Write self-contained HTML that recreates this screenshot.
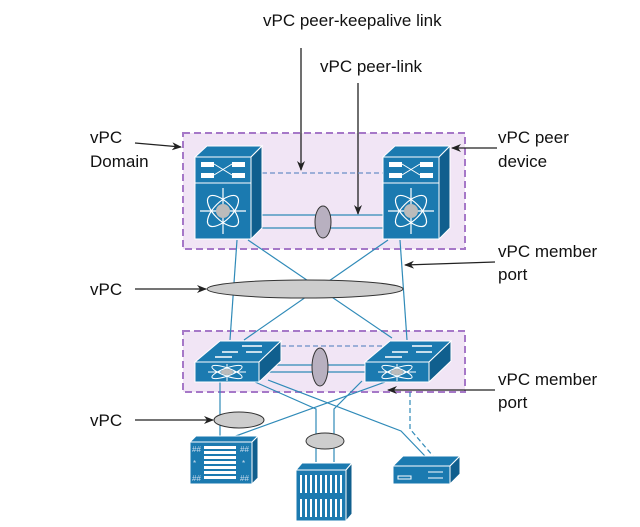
<!DOCTYPE html>
<html><head><meta charset="utf-8"><style>
html,body{margin:0;padding:0;background:#fff;}
svg{display:block;}
text{font-family:"Liberation Sans",sans-serif;font-size:17px;fill:#111;}
</style></head><body>
<svg width="640" height="527" viewBox="0 0 640 527" xmlns="http://www.w3.org/2000/svg">
<defs>
<marker id="ar" markerWidth="10" markerHeight="8" refX="9" refY="4" orient="auto" markerUnits="userSpaceOnUse">
<path d="M0,0 L10,4 L0,8 L3,4 z" fill="#222"/></marker>
</defs>
<!-- domain boxes -->
<rect x="183" y="133" width="282" height="116" fill="#f1e5f5" stroke="#a678c8" stroke-width="2" stroke-dasharray="7,4"/>
<rect x="183" y="331" width="282" height="61" fill="#f1e5f5" stroke="#a678c8" stroke-width="2" stroke-dasharray="7,4"/>

<!-- labels -->
<text x="263" y="26">vPC peer-keepalive link</text>
<text x="320" y="72">vPC peer-link</text>
<text x="90" y="143">vPC</text><text x="90" y="167">Domain</text>
<text x="498" y="143">vPC peer</text><text x="498" y="167">device</text>
<text x="498" y="257">vPC member</text><text x="498" y="280">port</text>
<text x="90" y="295">vPC</text>
<text x="498" y="385">vPC member</text><text x="498" y="408">port</text>
<text x="90" y="426">vPC</text>

<!-- arrows -->
<g stroke="#222" stroke-width="1.3" fill="none">
<line x1="301" y1="48" x2="301" y2="170" marker-end="url(#ar)"/>
<line x1="358" y1="83" x2="358" y2="214" marker-end="url(#ar)"/>
<line x1="135" y1="143" x2="181" y2="147" marker-end="url(#ar)"/>
<line x1="497" y1="148" x2="452" y2="148" marker-end="url(#ar)"/>
<line x1="495" y1="262" x2="405" y2="265" marker-end="url(#ar)"/>
<line x1="135" y1="289" x2="206" y2="289" marker-end="url(#ar)"/>
<line x1="495" y1="390" x2="388" y2="390" marker-end="url(#ar)"/>
<line x1="135" y1="420" x2="213" y2="420" marker-end="url(#ar)"/>
</g>

<!-- connection lines -->
<g stroke="#2f8ab8" stroke-width="1.2" fill="none">
<line x1="262" y1="215" x2="383" y2="215"/>
<line x1="262" y1="228" x2="383" y2="228"/>
<line x1="237" y1="240" x2="230" y2="340"/>
<line x1="248" y1="240" x2="392" y2="338"/>
<line x1="388" y1="240" x2="244" y2="340"/>
<line x1="400" y1="240" x2="407" y2="340"/>
<line x1="259" y1="365" x2="365" y2="365"/>
<line x1="259" y1="372" x2="365" y2="372"/>
<line x1="220" y1="382" x2="220" y2="437"/>
<line x1="385" y1="382" x2="233" y2="437"/>
<polyline points="255,382 316,409 316,462"/>
<polyline points="362,381 334,409 334,462"/>
<polyline points="268,380 401,431 425,456"/>
</g>
<g stroke="#6a8fc8" stroke-width="1.2" fill="none" stroke-dasharray="5,3">
<line x1="262" y1="173" x2="383" y2="173"/>
<line x1="281" y1="346" x2="385" y2="346"/>
<polyline stroke="#2f8ab8" points="410,392 410,429 433,456"/>
</g>

<!-- ellipses -->
<g fill="#b8b0c0" stroke="#333" stroke-width="1">
<ellipse cx="323" cy="222" rx="8" ry="16"/>
<ellipse cx="320" cy="367" rx="8" ry="19"/>
</g>
<g fill="#cdcdcd" stroke="#333" stroke-width="1">
<ellipse cx="305" cy="289" rx="98" ry="9"/>
<ellipse cx="239" cy="420" rx="25" ry="8"/>
<ellipse cx="325" cy="441" rx="19" ry="8"/>
</g>

<!-- top switches -->
<g id="sw">
<polygon points="195,157 207,146 262,146 251,157" fill="#1b7ab0" stroke="#fff" stroke-width="1"/>
<polygon points="251,157 262,146 262,228 251,239" fill="#105f8e" stroke="#fff" stroke-width="1"/>
<rect x="195" y="157" width="56" height="26" fill="#1b7ab0" stroke="#fff" stroke-width="1"/>
<rect x="195" y="183" width="56" height="56" fill="#1b7ab0" stroke="#fff" stroke-width="1"/>
<rect x="201" y="162" width="13" height="5" fill="#fff"/><rect x="232" y="162" width="13" height="5" fill="#fff"/>
<rect x="201" y="173" width="13" height="5" fill="#fff"/><rect x="232" y="173" width="13" height="5" fill="#fff"/>
<path d="M214,164 L232,175 M214,175 L232,164" stroke="#fff" stroke-width="1"/>
<g stroke="#fff" stroke-width="1.2" fill="none">
<ellipse cx="223" cy="211" rx="20" ry="9" transform="rotate(45 223 211)"/>
<ellipse cx="223" cy="211" rx="20" ry="9" transform="rotate(-45 223 211)"/>
<path d="M223,188 V234 M200,211 H246"/>
</g>
<circle cx="223" cy="211" r="7" fill="#bbb"/>
</g>
<use href="#sw" transform="translate(188,0)"/>

<!-- lower switches -->
<g id="ls">
<polygon points="195,362 220,341 281,341 259,362" fill="#1b7ab0" stroke="#fff" stroke-width="1"/>
<polygon points="259,362 281,341 281,361 259,382" fill="#105f8e" stroke="#fff" stroke-width="1"/>
<rect x="195" y="362" width="64" height="20" fill="#1b7ab0" stroke="#fff" stroke-width="1"/>
<path d="M215,357 H232 M242,346 H262 M222,352 H238 M246,352 H262" stroke="#fff" stroke-width="1.6"/>
<g stroke="#fff" stroke-width="1" fill="none">
<ellipse cx="227" cy="372" rx="16" ry="4" transform="rotate(20 227 372)"/>
<ellipse cx="227" cy="372" rx="16" ry="4" transform="rotate(-20 227 372)"/>
<path d="M227,364 V381 M208,372 H246"/>
</g>
<ellipse cx="227" cy="372" rx="6" ry="3" fill="#bbb"/>
</g>
<use href="#ls" transform="translate(170,0)"/>

<!-- blade chassis -->
<polygon points="190,442 196,436 258,436 252,442" fill="#1b7ab0" stroke="#fff"/>
<polygon points="252,442 258,436 258,478 252,484" fill="#105f8e" stroke="#fff"/>
<rect x="190" y="442" width="62" height="42" fill="#1b7ab0" stroke="#fff"/>
<g fill="#fff"><rect x="204" y="446" width="32" height="3"/><rect x="204" y="451" width="32" height="3"/><rect x="204" y="456" width="32" height="3"/><rect x="204" y="461" width="32" height="3"/><rect x="204" y="466" width="32" height="3"/><rect x="204" y="471" width="32" height="3"/><rect x="204" y="476" width="32" height="3"/></g>
<g fill="#cde" font-size="8"><text x="192" y="452" style="font-size:8px;fill:#cde">##</text><text x="240" y="452" style="font-size:8px;fill:#cde">##</text><text x="193" y="466" style="font-size:8px;fill:#cde">*</text><text x="242" y="466" style="font-size:8px;fill:#cde">*</text><text x="192" y="481" style="font-size:8px;fill:#cde">##</text><text x="240" y="481" style="font-size:8px;fill:#cde">##</text></g>

<!-- rack server -->
<polygon points="296,470 302,463 352,463 346,470" fill="#1b7ab0" stroke="#fff"/>
<polygon points="346,470 352,463 352,514 346,521" fill="#105f8e" stroke="#fff"/>
<rect x="296" y="470" width="50" height="51" fill="#1b7ab0" stroke="#fff"/>
<g stroke="#fff" stroke-width="2">
<path d="M301,475 V493 M306,475 V493 M311,475 V493 M316,475 V493 M321,475 V493 M326,475 V493 M331,475 V493 M336,475 V493 M341,475 V493"/>
<path d="M301,499 V517 M306,499 V517 M311,499 V517 M316,499 V517 M321,499 V517 M326,499 V517 M331,499 V517 M336,499 V517 M341,499 V517"/>
</g>

<!-- small device -->
<polygon points="393,466 403,456 460,456 450,466" fill="#1b7ab0" stroke="#fff"/>
<polygon points="450,466 460,456 460,474 450,484" fill="#105f8e" stroke="#fff"/>
<rect x="393" y="466" width="57" height="18" fill="#1b7ab0" stroke="#fff"/>
<rect x="398" y="476" width="13" height="3" fill="none" stroke="#fff"/>
<path d="M428,472 H443 M428,478 H443" stroke="#fff"/>
</svg>
</body></html>
